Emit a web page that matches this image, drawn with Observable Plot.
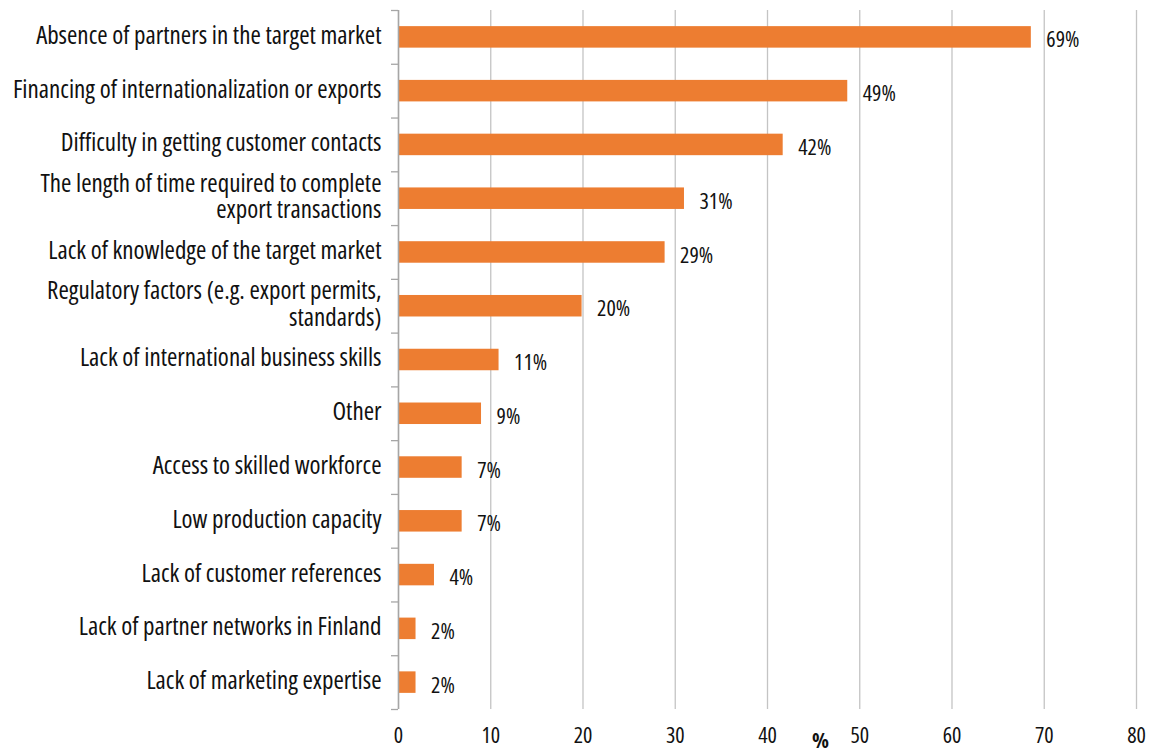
<!DOCTYPE html>
<html>
<head>
<meta charset="utf-8">
<script src="https://cdn.jsdelivr.net/npm/d3@7"></script>
<script src="https://cdn.jsdelivr.net/npm/@observablehq/plot@0.6"></script>
<style>
  html, body { margin: 0; padding: 0; background: #fff; }
  #chart svg { display: block; font-stretch: 75%; }
  #chart svg text { font-stretch: 75%; }
</style>
</head>
<body>
<div id="chart"></div>
<script>
const categories = [
  "Absence of partners in the target market",
  "Financing of internationalization or exports",
  "Difficulty in getting customer contacts",
  "The length of time required to complete export transactions",
  "Lack of knowledge of the target market",
  "Regulatory factors (e.g. export permits, standards)",
  "Lack of international business skills",
  "Other",
  "Access to skilled workforce",
  "Low production capacity",
  "Lack of customer references",
  "Lack of partner networks in Finland",
  "Lack of marketing expertise"
];
const displayLabels = [
  "Absence of partners in the target market",
  "Financing of internationalization or exports",
  "Difficulty in getting customer contacts",
  "The length of time required to complete\nexport transactions",
  "Lack of knowledge of the target market",
  "Regulatory factors (e.g. export permits,\nstandards)",
  "Lack of international business skills",
  "Other",
  "Access to skilled workforce",
  "Low production capacity",
  "Lack of customer references",
  "Lack of partner networks in Finland",
  "Lack of marketing expertise"
];
const values = [68.6, 48.7, 41.7, 31.0, 28.9, 19.9, 10.9, 9.0, 6.9, 6.9, 3.9, 1.9, 1.9];
const valueLabels = ["69%", "49%", "42%", "31%", "29%", "20%", "11%", "9%", "7%", "7%", "4%", "2%", "2%"];
const xTicks = [0, 10, 20, 30, 40, 50, 60, 70, 80];
const axisTitle = "%";

const data = categories.map((c, i) => ({category: c, value: values[i], label: valueLabels[i]}));
const labelOf = new Map(categories.map((c, i) => [c, displayLabels[i]]));

const W = 1149, H = 754, mT = 10, mB = 45;
const step = (H - mT - mB) / categories.length;
const font = "'Open Sans', 'DejaVu Sans', sans-serif";

const chart = Plot.plot({
  width: W,
  height: H,
  marginLeft: 398,
  marginRight: 13,
  marginTop: mT,
  marginBottom: mB,
  style: {fontFamily: font, fontSize: "22px", color: "#111", background: "#fff"},
  x: {domain: [0, 80], ticks: xTicks},
  y: {domain: categories, paddingInner: 0.6, paddingOuter: 0.3, round: false, axis: null},
  marks: [
    Plot.gridX(xTicks, {stroke: "#c4c4c4", strokeOpacity: 1, strokeWidth: 1.3}),
    Plot.axisX(xTicks, {tickSize: 0, tickPadding: 18, fontSize: 22, label: null, fill: "#111"}),
    Plot.barX(data, {x: "value", y: "category", fill: "#ED7D31"}),
    Plot.text(data, {x: "value", y: "category", text: "label", textAnchor: "start", dx: 15, dy: 3, fontSize: 22, fill: "#111"}),
    Plot.ruleX([0], {stroke: "#a6a6a6", strokeWidth: 1.5}),
    Plot.ruleY(categories, {y: d => d, x1: -0.76, x2: 0, dy: -step / 2, stroke: "#a6a6a6", strokeWidth: 1.3}),
    Plot.ruleY([categories[categories.length - 1]], {y: d => d, x1: -0.76, x2: 0, dy: step / 2, stroke: "#a6a6a6", strokeWidth: 1.3}),
    Plot.axisY({tickSize: 0, tickPadding: 17, dy: -2, fontSize: 25, fill: "#111", lineHeight: 1.06, tickFormat: d => labelOf.get(d), label: null}),
    Plot.text([axisTitle], {frameAnchor: "bottom", text: d => d, dx: 53, dy: 38, fontSize: 22, fontWeight: "bold", fill: "#111"})
  ]
});
document.getElementById("chart").appendChild(chart);
</script>
</body>
</html>
